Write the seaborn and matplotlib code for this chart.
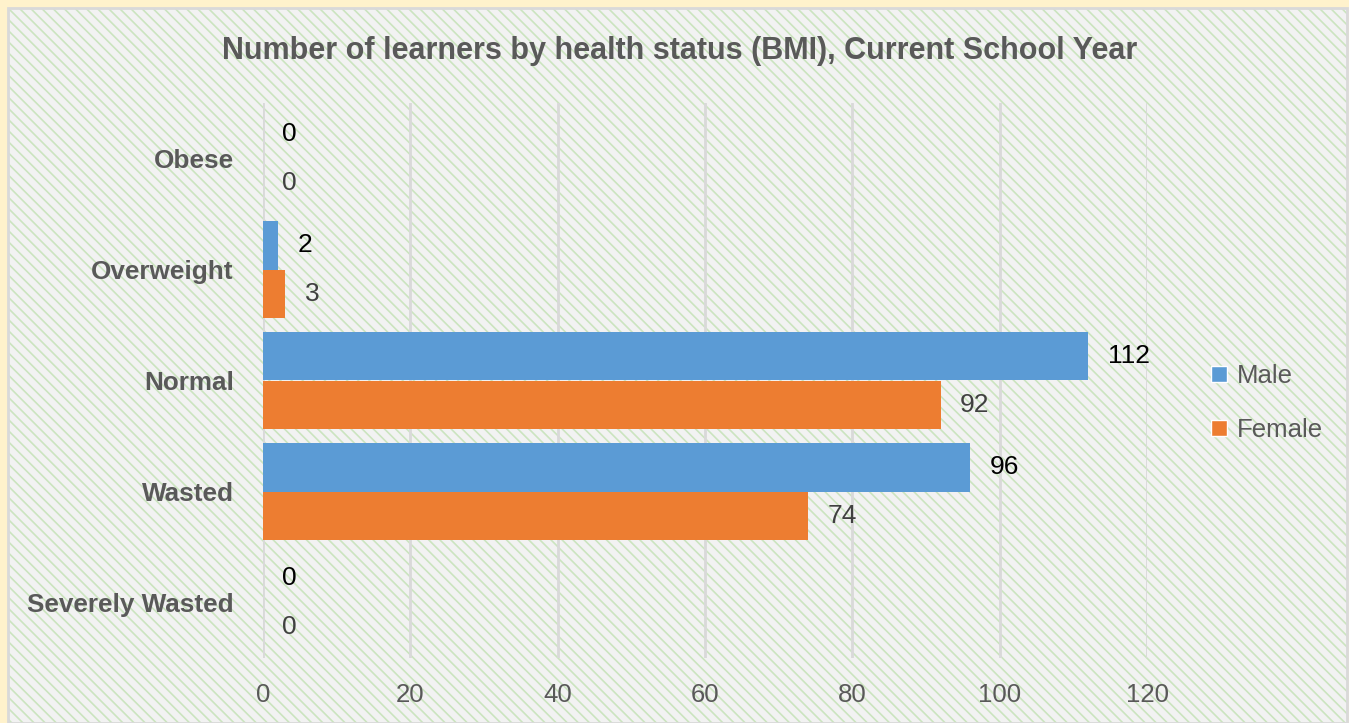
import matplotlib
matplotlib.use('Agg')
import matplotlib.pyplot as plt
import seaborn as sns
import pandas as pd
from matplotlib.patches import Rectangle
from matplotlib import font_manager

categories = ["Obese", "Overweight", "Normal", "Wasted", "Severely Wasted"]
male = [0, 2, 112, 96, 0]
female = [0, 3, 92, 74, 0]
series = ["Male", "Female"]
x_ticks = [0, 20, 40, 60, 80, 100, 120]
title = "Number of learners by health status (BMI), Current School Year"

sns.set_theme(style="white")
available = {f.name for f in font_manager.fontManager.ttflist}
narrow = 'Liberation Sans Narrow' if 'Liberation Sans Narrow' in available else 'Liberation Sans'
plt.rcParams['font.family'] = [narrow, 'DejaVu Sans']
plt.rcParams['hatch.linewidth'] = 1.2

W, H = 1349, 723
fig = plt.figure(figsize=(W / 100, H / 100), dpi=100)
fig.patch.set_facecolor('#FFF2CC')
bg = Rectangle((8 / W, 0), (W - 10) / W, (H - 8) / H, transform=fig.transFigure,
               facecolor='#F2F2F2', edgecolor='#CBE4BF', hatch='\\\\\\', linewidth=0, zorder=-10)
fig.patches.append(bg)
border = Rectangle((8 / W, 0), (W - 10) / W, (H - 8) / H, transform=fig.transFigure,
                   fill=False, edgecolor='#D9D9D9', linewidth=2, zorder=-9)
fig.patches.append(border)

ax = fig.add_axes([263 / W, (H - 658) / H, (1147 - 263) / W, (658 - 103) / H])
ax.set_facecolor('none')

df = pd.DataFrame({
    'Category': categories * 2,
    'Count': male + female,
    'Sex': [series[0]] * len(categories) + [series[1]] * len(categories),
})
colors = {'Male': '#5B9BD5', 'Female': '#ED7D31'}
sns.barplot(data=df, y='Category', x='Count', hue='Sex', order=categories, hue_order=series,
            palette=colors, orient='h', width=0.865, saturation=1, ax=ax, legend=False,
            linewidth=0, errorbar=None)

ax.set_xlim(0, 120)
ax.set_ylim(len(categories) - 0.5, -0.5)
ax.set_xticks(x_ticks)
ax.grid(axis='x', color='#D9D9D9', linewidth=2)
ax.grid(axis='y', visible=False)
ax.set_axisbelow(True)
for s in ax.spines.values():
    s.set_visible(False)
ax.set_xlabel('')
ax.set_ylabel('')
ax.tick_params(axis='y', length=0, pad=21, labelsize=18.8, labelcolor='#595959')
ax.tick_params(axis='x', length=0, pad=18, labelsize=18.5, labelcolor='#595959')
for t in ax.get_yticklabels():
    t.set_fontweight('bold')

label_colors = ['#000000', '#404040']
for cont, lc in zip(ax.containers, label_colors):
    ax.bar_label(cont, padding=14, fontsize=19, color=lc)

handles = [Rectangle((0, 0), 1, 1, facecolor=colors[s]) for s in series]
fig.legend(handles, series, loc='center left', bbox_to_anchor=(1188 / W, 1 - 403 / H),
           frameon=False, fontsize=18.5, labelcolor='#595959', handlelength=0.6, handleheight=0.6,
           handletextpad=0.4, labelspacing=1.15)

fig.text(679.5 / W, 1 - 51 / H, title, ha='center', va='center', fontsize=22,
         fontweight='bold', color='#595959')

fig.savefig('out.png', dpi=100, facecolor=fig.get_facecolor())
